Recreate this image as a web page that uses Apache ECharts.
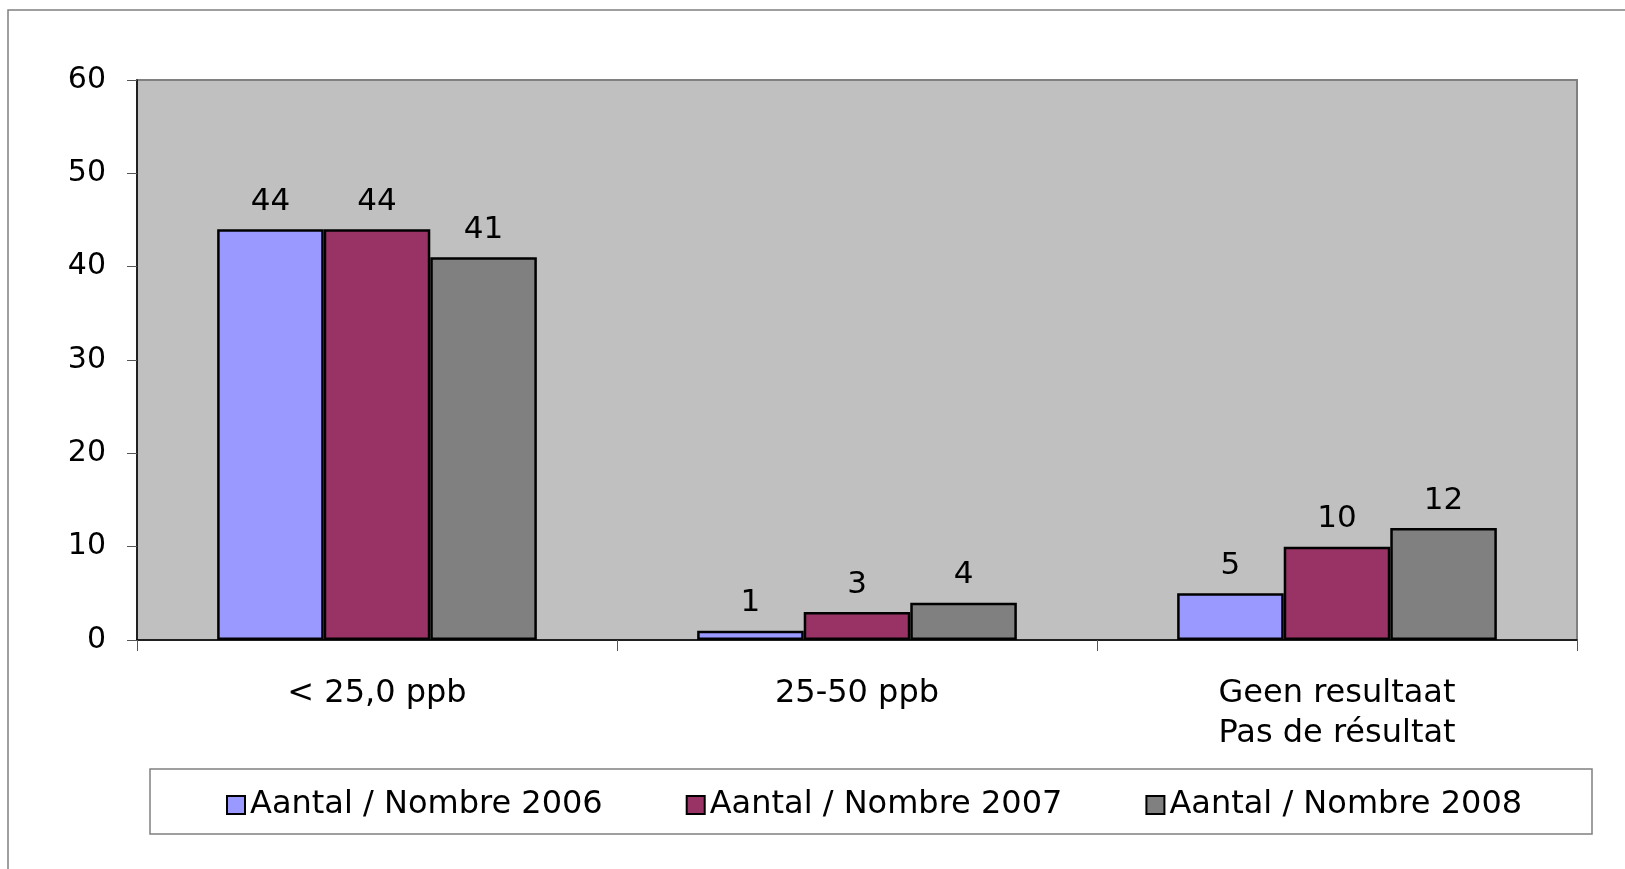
<!DOCTYPE html>
<html>
<head>
<meta charset="utf-8">
<script src="https://cdn.jsdelivr.net/npm/echarts@6/dist/echarts.min.js"></script>
<style>
  html, body { margin: 0; padding: 0; background: #fff; }
  #chart { width: 1625px; height: 869px; }
</style>
</head>
<body>
<div id="chart"></div>
<script>
// categories and series values
const categories = ['< 25,0 ppb', '25-50 ppb', 'Geen resultaat\nPas de résultat'];
const seriesNames = ['Aantal / Nombre 2006', 'Aantal / Nombre 2007', 'Aantal / Nombre 2008'];
const values2006 = [44, 1, 5];
const values2007 = [44, 3, 10];
const values2008 = [41, 4, 12];
const seriesColors = ['#9999FF', '#993366', '#808080'];

const font = 'DejaVu Sans';
const chart = echarts.init(document.getElementById('chart'), null, { renderer: 'canvas' });

const mkSeries = (name, data, color) => ({
    name: name,
    type: 'bar',
    data: data,
    barGap: '0%',
    barCategoryGap: '33.4%',
    itemStyle: { color: color, borderColor: '#000', borderWidth: 2.5 },
    label: {
        show: true,
        position: 'top',
        distance: 12,
        color: '#000',
        fontFamily: font,
        fontSize: 31,
    },
    emphasis: { disabled: true },
});

chart.setOption({
    animation: false,
    backgroundColor: '#fff',
    textStyle: { fontFamily: font },
    graphic: [
        // outer chart border (runs off the right and bottom)
        { type: 'rect', shape: { x: 8, y: 10, width: 1700, height: 1000 },
          style: { fill: 'none', stroke: '#808080', lineWidth: 1.5 }, z: -1 },
        // legend box
        { type: 'rect', shape: { x: 150, y: 769, width: 1442, height: 65 },
          style: { fill: '#fff', stroke: '#808080', lineWidth: 1.5 }, z: -1 },
    ],
    grid: {
        left: 137, right: 48, top: 80, bottom: 229,
        show: true,
        backgroundColor: '#C0C0C0',
        borderColor: '#808080',
        borderWidth: 2,
    },
    legend: {
        data: seriesNames,
        left: 226,
        top: 789,
        padding: 0,
        itemWidth: 18,
        itemHeight: 18,
        itemGap: 83,
        icon: 'rect',
        itemStyle: { borderColor: '#000', borderWidth: 2 },
        textStyle: { fontFamily: font, fontSize: 32, color: '#000' },
    },
    xAxis: {
        type: 'category',
        data: categories,
        axisLine: { lineStyle: { color: '#000', width: 1.5 } },
        axisTick: { show: true, length: 11, lineStyle: { color: '#555' } },
        axisLabel: {
            color: '#000',
            fontFamily: font,
            fontSize: 32,
            lineHeight: 40,
            margin: 34,
            interval: 0,
        },
    },
    yAxis: {
        type: 'value',
        min: 0,
        max: 60,
        interval: 10,
        splitLine: { show: false },
        axisLine: { show: true, lineStyle: { color: '#000', width: 1.5 } },
        axisTick: { show: true, length: 10, lineStyle: { color: '#555' } },
        axisLabel: { color: '#000', fontFamily: font, fontSize: 30, margin: 31 },
    },
    series: [
        mkSeries(seriesNames[0], values2006, seriesColors[0]),
        mkSeries(seriesNames[1], values2007, seriesColors[1]),
        mkSeries(seriesNames[2], values2008, seriesColors[2]),
    ],
});

window.addEventListener('resize', () => chart.resize());
</script>
</body>
</html>
